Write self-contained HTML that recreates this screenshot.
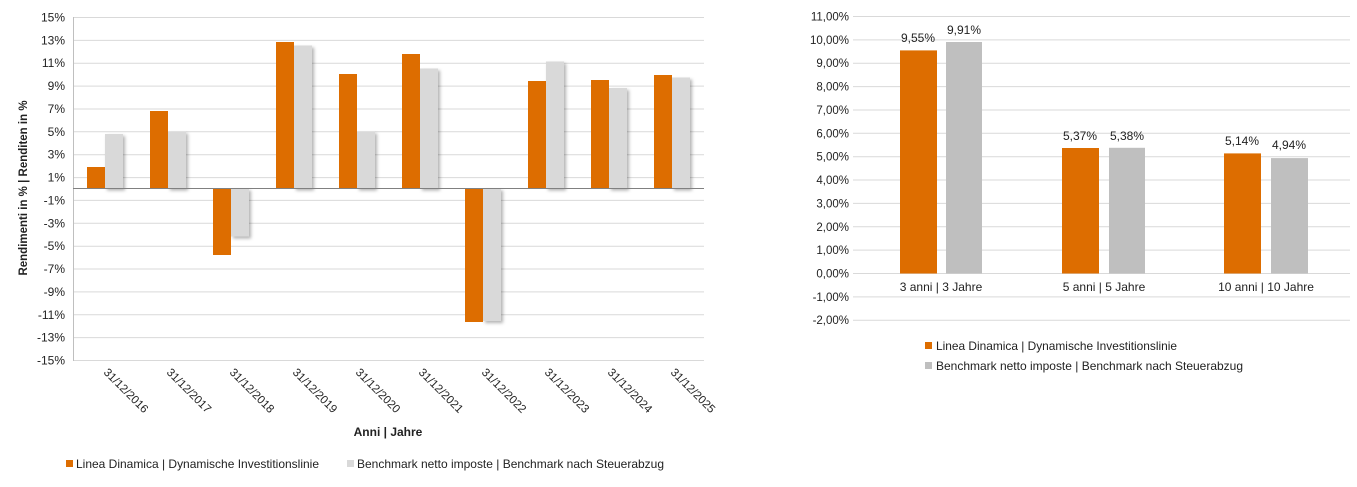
<!DOCTYPE html>
<html><head><meta charset="utf-8"><style>
html,body{margin:0;padding:0;background:#fff;}
svg{display:block;font-family:"Liberation Sans",Arial,sans-serif;}
</style></head><body>
<svg width="1357" height="487" viewBox="0 0 1357 487" xmlns="http://www.w3.org/2000/svg">
<defs><filter id="sh" x="-20%" y="-5%" width="160%" height="115%"><feDropShadow dx="2" dy="2" stdDeviation="1.5" flood-color="#000" flood-opacity="0.3"/></filter></defs>
<g stroke="#d9d9d9" stroke-width="1">
<line x1="73" x2="704" y1="17.5" y2="17.5"/><line x1="73" x2="704" y1="40.4" y2="40.4"/><line x1="73" x2="704" y1="63.2" y2="63.2"/><line x1="73" x2="704" y1="86.1" y2="86.1"/><line x1="73" x2="704" y1="109" y2="109"/><line x1="73" x2="704" y1="131.8" y2="131.8"/><line x1="73" x2="704" y1="154.7" y2="154.7"/><line x1="73" x2="704" y1="177.6" y2="177.6"/><line x1="73" x2="704" y1="200.4" y2="200.4"/><line x1="73" x2="704" y1="223.3" y2="223.3"/><line x1="73" x2="704" y1="246.2" y2="246.2"/><line x1="73" x2="704" y1="269" y2="269"/><line x1="73" x2="704" y1="291.9" y2="291.9"/><line x1="73" x2="704" y1="314.8" y2="314.8"/><line x1="73" x2="704" y1="337.6" y2="337.6"/><line x1="73" x2="704" y1="360.5" y2="360.5"/>
</g>
<line x1="73.5" x2="73.5" y1="17" y2="361" stroke="#bfbfbf"/>
<g font-size="12" fill="#222" text-anchor="end">
<text x="65" y="21.5">15%</text><text x="65" y="44.4">13%</text><text x="65" y="67.2">11%</text><text x="65" y="90.1">9%</text><text x="65" y="113">7%</text><text x="65" y="135.8">5%</text><text x="65" y="158.7">3%</text><text x="65" y="181.6">1%</text><text x="65" y="204.4">-1%</text><text x="65" y="227.3">-3%</text><text x="65" y="250.2">-5%</text><text x="65" y="273">-7%</text><text x="65" y="295.9">-9%</text><text x="65" y="318.8">-11%</text><text x="65" y="341.6">-13%</text><text x="65" y="364.5">-15%</text>
</g>
<text transform="translate(27,188) rotate(-90)" text-anchor="middle" font-size="11.5" font-weight="bold" fill="#222">Rendimenti in % | Renditen in %</text>
<g fill="#d9d9d9" filter="url(#sh)">
<rect x="105" y="134" width="18" height="54.5"/>
<rect x="168" y="131.5" width="18" height="57"/>
<rect x="231" y="188.5" width="18" height="48"/>
<rect x="294" y="45.5" width="18" height="143"/>
<rect x="357" y="131.5" width="18" height="57"/>
<rect x="420" y="68.5" width="18" height="120"/>
<rect x="483" y="188.5" width="18" height="132.5"/>
<rect x="546" y="61.5" width="18" height="127"/>
<rect x="609" y="88" width="18" height="100.5"/>
<rect x="672" y="77.5" width="18" height="111"/>
</g>
<g fill="#dd6d00">
<rect x="87" y="167" width="18" height="21.5"/>
<rect x="150" y="111" width="18" height="77.5"/>
<rect x="213" y="188.5" width="18" height="66.5"/>
<rect x="276" y="42" width="18" height="146.5"/>
<rect x="339" y="74" width="18" height="114.5"/>
<rect x="402" y="54" width="18" height="134.5"/>
<rect x="465" y="188.5" width="18" height="133.5"/>
<rect x="528" y="81" width="18" height="107.5"/>
<rect x="591" y="80" width="18" height="108.5"/>
<rect x="654" y="75" width="18" height="113.5"/>
</g>
<line x1="73" x2="704" y1="188.5" y2="188.5" stroke="#808080"/>
<g font-size="11.5" fill="#222">
<text transform="translate(103,373) rotate(45)">31/12/2016</text>
<text transform="translate(166,373) rotate(45)">31/12/2017</text>
<text transform="translate(229,373) rotate(45)">31/12/2018</text>
<text transform="translate(292,373) rotate(45)">31/12/2019</text>
<text transform="translate(355,373) rotate(45)">31/12/2020</text>
<text transform="translate(418,373) rotate(45)">31/12/2021</text>
<text transform="translate(481,373) rotate(45)">31/12/2022</text>
<text transform="translate(544,373) rotate(45)">31/12/2023</text>
<text transform="translate(607,373) rotate(45)">31/12/2024</text>
<text transform="translate(670,373) rotate(45)">31/12/2025</text>
</g>
<text x="388" y="436" text-anchor="middle" font-size="12" font-weight="bold" fill="#222">Anni | Jahre</text>
<rect x="66" y="460" width="7" height="7" fill="#dd6d00"/>
<text x="76" y="468" font-size="12" fill="#222" textLength="243" lengthAdjust="spacingAndGlyphs">Linea Dinamica | Dynamische Investitionslinie</text>
<rect x="347" y="460" width="7" height="7" fill="#d9d9d9"/>
<text x="357" y="468" font-size="12" fill="#222" textLength="307" lengthAdjust="spacingAndGlyphs">Benchmark netto imposte | Benchmark nach Steuerabzug</text>

<!-- right chart -->
<g stroke="#d9d9d9">
<line x1="853" x2="1350" y1="16.5" y2="16.5"/><line x1="853" x2="1350" y1="39.9" y2="39.9"/><line x1="853" x2="1350" y1="63.2" y2="63.2"/><line x1="853" x2="1350" y1="86.6" y2="86.6"/><line x1="853" x2="1350" y1="110" y2="110"/><line x1="853" x2="1350" y1="133.3" y2="133.3"/><line x1="853" x2="1350" y1="156.7" y2="156.7"/><line x1="853" x2="1350" y1="180" y2="180"/><line x1="853" x2="1350" y1="203.4" y2="203.4"/><line x1="853" x2="1350" y1="226.8" y2="226.8"/><line x1="853" x2="1350" y1="250.1" y2="250.1"/><line x1="853" x2="1350" y1="273.5" y2="273.5"/><line x1="853" x2="1350" y1="296.9" y2="296.9"/><line x1="853" x2="1350" y1="320.2" y2="320.2"/>
</g>
<g font-size="11.5" fill="#222" text-anchor="end">
<text x="849" y="20.5">11,00%</text><text x="849" y="43.9">10,00%</text><text x="849" y="67.2">9,00%</text><text x="849" y="90.6">8,00%</text><text x="849" y="114">7,00%</text><text x="849" y="137.3">6,00%</text><text x="849" y="160.7">5,00%</text><text x="849" y="184">4,00%</text><text x="849" y="207.4">3,00%</text><text x="849" y="230.8">2,00%</text><text x="849" y="254.1">1,00%</text><text x="849" y="277.5">0,00%</text><text x="849" y="300.9">-1,00%</text><text x="849" y="324.2">-2,00%</text>
</g>
<g fill="#dd6d00">
<rect x="900" y="50.4" width="37" height="223.1"/>
<rect x="1062" y="148" width="37" height="125.5"/>
<rect x="1224" y="153.4" width="37" height="120.1"/>
</g>
<g fill="#bfbfbf">
<rect x="946" y="42" width="36" height="231.5"/>
<rect x="1109" y="147.8" width="36" height="125.7"/>
<rect x="1271" y="158.1" width="37" height="115.4"/>
</g>
<g font-size="12" fill="#222" text-anchor="middle">
<text x="918" y="42">9,55%</text><text x="964" y="34">9,91%</text>
<text x="1080" y="140">5,37%</text><text x="1127" y="140">5,38%</text>
<text x="1242" y="145">5,14%</text><text x="1289" y="149">4,94%</text>
<text x="941" y="291">3 anni | 3 Jahre</text>
<text x="1104" y="291">5 anni | 5 Jahre</text>
<text x="1266" y="291">10 anni | 10 Jahre</text>
</g>
<rect x="925" y="342" width="7" height="7" fill="#dd6d00"/>
<text x="936" y="350" font-size="12" fill="#222" textLength="241" lengthAdjust="spacingAndGlyphs">Linea Dinamica | Dynamische Investitionslinie</text>
<rect x="925" y="362" width="7" height="7" fill="#bfbfbf"/>
<text x="936" y="370" font-size="12" fill="#222" textLength="307" lengthAdjust="spacingAndGlyphs">Benchmark netto imposte | Benchmark nach Steuerabzug</text>
</svg>
</body></html>
